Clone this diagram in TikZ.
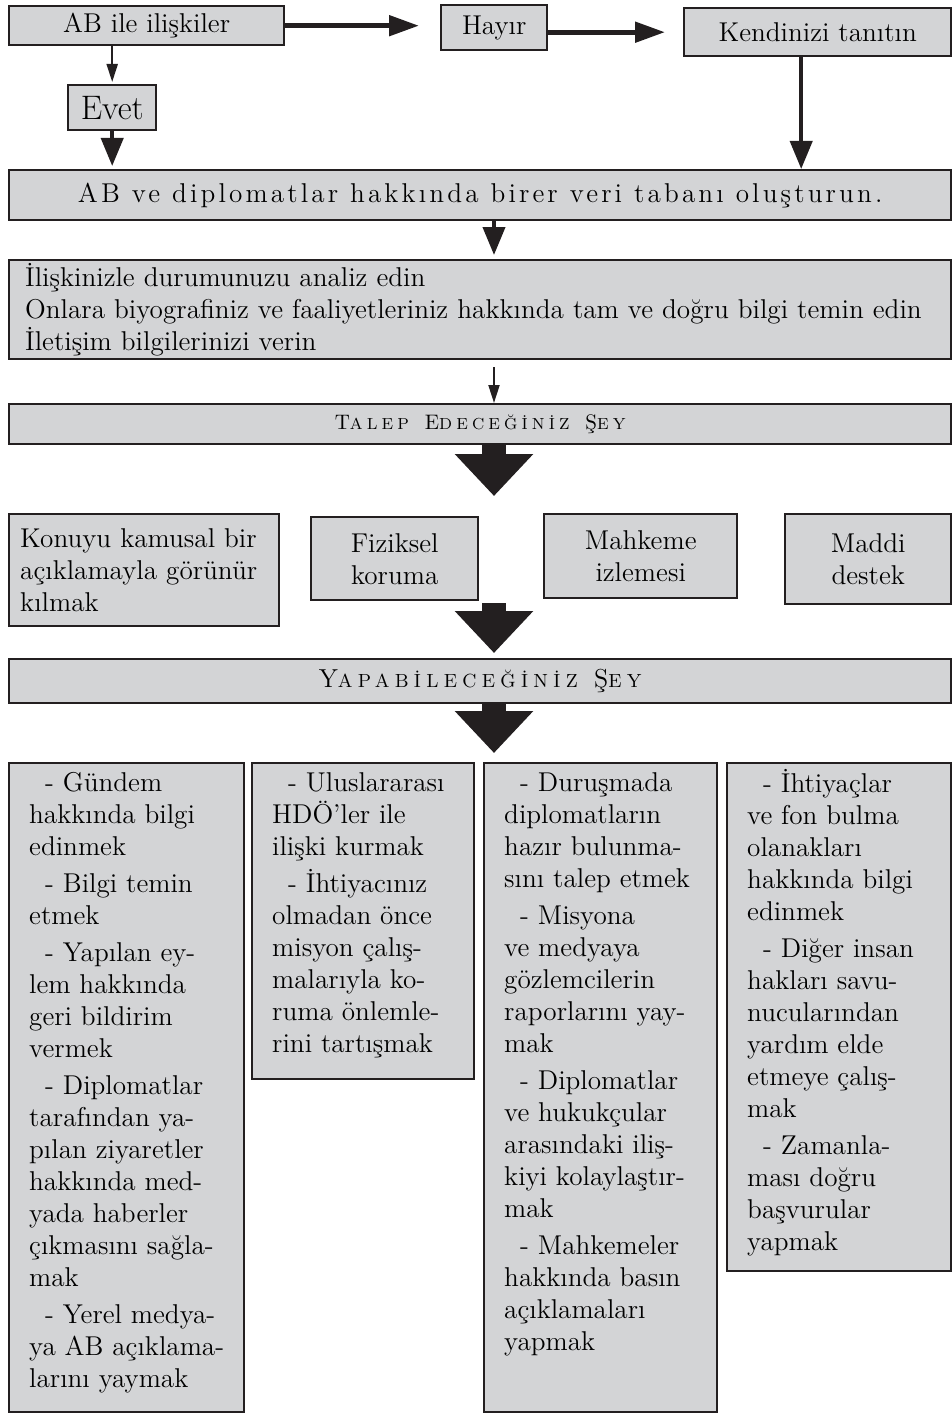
\documentclass[tikz,border=0pt]{standalone}
\usepackage{fontspec}
\setmainfont{Latin Modern Roman}
\usepackage{tikz}
\usetikzlibrary{arrows.meta}
\definecolor{boxgray}{RGB}{211,212,214}
\definecolor{boxline}{RGB}{35,31,32}
\newcommand{\ColText}[3]{\parbox[c][#1][t]{#2}{\raggedright\strut #3}}
\newcommand{\Item}{\hspace*{8pt}- }
\newcommand{\SmallCap}[1]{{\fontsize{8}{9}\selectfont #1}}
\newcommand{\BigCap}[1]{{\fontsize{10.5}{11}\selectfont #1}}

\begin{document}
\begin{tikzpicture}[x = 0.5pt, y = -0.5pt]
  \useasboundingbox (0,0) rectangle (952,1413);
  \tikzset{BoxStyle/.style     = {draw           = boxline,
                                  fill           = boxgray,
                                  line width     = 1.2pt,
                                  anchor         = north west,
                                  inner sep      = 0pt,
                                  align          = center,
                                  font           = \fontsize{13.6}{16}\selectfont}}
  \tikzset{TextBoxStyle/.style = {BoxStyle,
                                  align          = left,
                                  inner xsep     = 8pt}}
  \tikzset{ColStyle/.style     = {BoxStyle,
                                  align          = left,
                                  inner xsep     = 10pt,
                                  inner ysep     = 3pt}}
  \tikzset{ThickArrow/.style   = {draw = boxline, line width = 2.5pt,
                                  -{Triangle[length = 15pt, width = 10pt]}}}
  \tikzset{MidArrow/.style     = {draw = boxline, line width = 2pt,
                                  -{Triangle[length = 14pt, width = 11pt]}}}
  \tikzset{ThinArrow/.style    = {draw = boxline, line width = 1pt,
                                  -{Triangle[length = 9pt, width = 5.5pt]}}}
  \tikzset{BigArrow/.style     = {draw = boxline, line width = 12pt,
                                  -{Triangle[length = 21pt, width = 38pt]}}}

     % top row
     \node[BoxStyle, minimum width = 137.5pt, minimum height = 19.5pt](iliski) at (8,5){AB ile ilişkiler};
     \node[BoxStyle, minimum width = 53pt, minimum height = 22.5pt](hayir) at (440,4){Hayır};
     \node[BoxStyle, minimum width = 133.5pt, minimum height = 24pt](tanitin) at (683,7){Kendinizi tanıtın};
     \node[BoxStyle, minimum width = 44pt, minimum height = 22.5pt,
           font = \fontsize{17}{20}\selectfont](evet) at (67,84){Evet};

     % wide boxes
     \node[BoxStyle, minimum width = 471pt, minimum height = 25pt](veri) at (8,169)
          {\addfontfeatures{LetterSpace = 11.5}AB ve diplomatlar hakkında birer veri tabanı oluşturun.};
     \node[TextBoxStyle, text width = 455pt, minimum height = 49.5pt](analiz) at (8,259)
          {İlişkinizle durumunuzu analiz edin\\
           Onlara biyografiniz ve faaliyetleriniz hakkında tam ve doğru bilgi temin edin\\
           İletişim bilgilerinizi verin};
     \node[BoxStyle, minimum width = 471pt, minimum height = 20pt](talep) at (8,403)
          {\addfontfeatures{LetterSpace = 26}\BigCap{T}\SmallCap{ALEP} \BigCap{E}\SmallCap{DECEĞİNİZ} \BigCap{Ş}\SmallCap{EY}};

     % requests
     \node[TextBoxStyle, inner xsep = 5.5pt, text width = 124pt, minimum height = 56pt](kamusal) at (8,513)
          {Konuyu kamusal bir\\ açıklamayla görünür\\ kılmak};
     \node[BoxStyle, minimum width = 83.5pt, minimum height = 41.5pt](fiziksel) at (310,516){Fiziksel\\ koruma};
     \node[BoxStyle, minimum width = 96.5pt, minimum height = 42pt](mahkeme) at (543,513){Mahkeme\\ izlemesi};
     \node[BoxStyle, minimum width = 83pt, minimum height = 45pt](maddi) at (784,513){Maddi\\ destek};

     \node[BoxStyle, minimum width = 471pt, minimum height = 22pt](yapab) at (8,658)
          {\addfontfeatures{LetterSpace = 28}{\fontsize{13}{14}\selectfont Y}{\fontsize{9.5}{10}\selectfont APABİLECEĞİNİZ}
           {\fontsize{13}{14}\selectfont Ş}{\fontsize{9.5}{10}\selectfont EY}};

     % columns
     \node[ColStyle](col1) at (8,762){\ColText{318.5pt}{97.5pt}{%
          \Item Gündem\\ hakkında bilgi\\ edinmek\\[2.5pt]
          \Item Bilgi temin\\ etmek\\[2.5pt]
          \Item Yapılan ey-\\ lem hakkında\\ geri bildirim\\ vermek\\[2.5pt]
          \Item Diplomatlar\\ tarafından ya-\\ pılan ziyaretler\\ hakkında med-\\ yada haberler\\ çıkmasını sağla-\\ mak\\[2.5pt]
          \Item Yerel medya-\\ ya AB açıklama-\\ larını yaymak}};
     \node[ColStyle](col2) at (251,762){\ColText{152pt}{91pt}{%
          \Item Uluslararası\\ HDÖ’ler ile\\ ilişki kurmak\\[2.5pt]
          \Item İhtiyacınız\\ olmadan önce\\ misyon çalış-\\ malarıyla ko-\\ ruma önlemle-\\ rini tartışmak}};
     \node[ColStyle](col3) at (483,762){\ColText{318.5pt}{96.5pt}{%
          \Item Duruşmada\\ diplomatların\\ hazır bulunma-\\ sını talep etmek\\[2.5pt]
          \Item Misyona\\ ve medyaya\\ gözlemcilerin\\ raporlarını yay-\\ mak\\[2.5pt]
          \Item Diplomatlar\\ ve hukukçular\\ arasındaki iliş-\\ kiyi kolaylaştır-\\ mak\\[2.5pt]
          \Item Mahkemeler\\ hakkında basın\\ açıklamaları\\ yapmak}};
     \node[ColStyle](col4) at (726,762){\ColText{248pt}{92pt}{%
          \Item İhtiyaçlar\\ ve fon bulma\\ olanakları\\ hakkında bilgi\\ edinmek\\[2.5pt]
          \Item Diğer insan\\ hakları savu-\\ nucularından\\ yardım elde\\ etmeye çalış-\\ mak\\[2.5pt]
          \Item Zamanla-\\ ması doğru\\ başvurular\\ yapmak}};

     % connectors
     \coordinate (mid) at (494,0);
     \coordinate (tip1) at (494,496);
     \coordinate (tail2) at (494,603);
     \coordinate (tip2) at (494,653);
     \coordinate (tip3) at (494,753);

     \draw[ThickArrow, shorten > = 10.5pt](iliski.east) -- (iliski.east -| hayir.west);
     \draw[ThickArrow, shorten > = 9pt](hayir.east |- tanitin.west) -- (tanitin.west);
     \draw[MidArrow]([xshift = -8.25pt]tanitin.south) -- ([xshift = -8.25pt]tanitin.south |- veri.north);
     \draw[ThinArrow, shorten > = 1pt](evet.north |- iliski.south) -- (evet.north);
     \draw[MidArrow, shorten > = 1.5pt](evet.south) -- (evet.south |- veri.north);
     \draw[MidArrow, shorten > = 2pt](veri.south -| mid) -- (analiz.north -| mid);
     \draw[ThinArrow, shorten < = 3.5pt](analiz.south -| mid) -- (talep.north -| mid);
     \draw[BigArrow](talep.south -| mid) -- (tip1);
     \draw[BigArrow](tail2) -- (tip2);
     \draw[BigArrow](yapab.south -| mid) -- (tip3);
\end{tikzpicture}
\end{document}
